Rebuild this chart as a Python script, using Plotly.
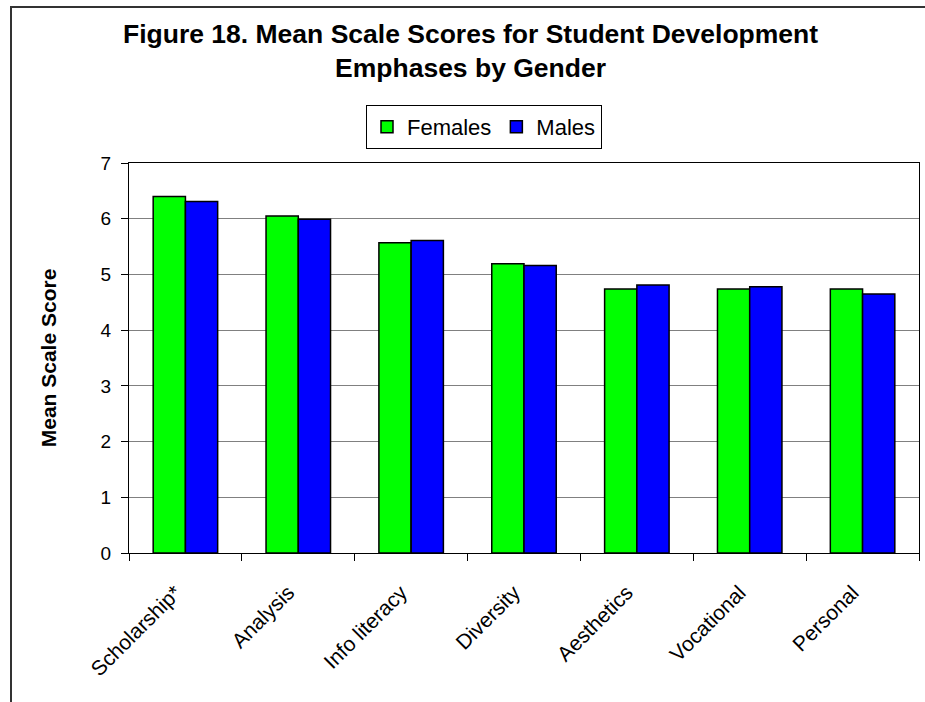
import plotly.graph_objects as go

categories = ["Scholarship*", "Analysis", "Info literacy", "Diversity",
              "Aesthetics", "Vocational", "Personal"]
females = [6.40, 6.05, 5.57, 5.19, 4.74, 4.74, 4.74]
males = [6.31, 5.99, 5.61, 5.16, 4.81, 4.78, 4.65]
y_ticks = [0, 1, 2, 3, 4, 5, 6, 7]

W, H = 925, 702
L, R, T, B = 129, 919, 163, 553
pw, ph = R - L, B - T

def px_x(x):
    return (x - L) / pw

def px_y(y):
    return (B - y) / ph

FONT = "Liberation Sans, Arial, sans-serif"

fig = go.Figure()
fig.add_trace(go.Bar(name="Females", x=categories, y=females,
                     marker=dict(color="#00FF00", line=dict(color="black", width=1.5))))
fig.add_trace(go.Bar(name="Males", x=categories, y=males,
                     marker=dict(color="#0000FF", line=dict(color="black", width=1.5))))

fig.update_layout(
    width=W, height=H,
    margin=dict(l=L, r=W - R, t=T, b=H - B, autoexpand=False),
    paper_bgcolor="white", plot_bgcolor="white",
    barmode="group", bargap=1.5 / 3.5, bargroupgap=0,
    font=dict(family=FONT, size=19, color="black"),
    showlegend=True,
    legend=dict(orientation="h", x=px_x(484), y=px_y(127),
                xanchor="center", yanchor="middle",
                bordercolor="black", borderwidth=1, bgcolor="white",
                font=dict(size=22), itemwidth=30, tracegroupgap=0),
    xaxis=dict(showline=True, linecolor="black", linewidth=1, mirror=True,
               ticks="outside", ticklen=7, tickcolor="black", tickson="boundaries",
               tickangle=-45, showgrid=False, tickfont=dict(size=21),
               ticklabelstandoff=18, ticklabelshift=-10),
    yaxis=dict(range=[0, 7], tickvals=y_ticks, showline=True, linecolor="black",
               linewidth=1, mirror=True, ticks="outside", ticklen=7, tickcolor="black",
               showgrid=True, gridcolor="#808080", gridwidth=1, zeroline=False,
               tickfont=dict(size=19), ticklabelstandoff=6,
               title=dict(text="<b>Mean Scale Score</b>", font=dict(size=21), standoff=38)),
    annotations=[dict(
        text="<b>Figure 18. Mean Scale Scores for Student Development<br>Emphases by Gender</b>",
        xref="paper", yref="paper", x=px_x(470), y=px_y(17),
        xanchor="center", yanchor="top", showarrow=False, align="center",
        font=dict(size=26.5, family=FONT, color="black"))],
    shapes=[dict(type="rect", xref="paper", yref="paper",
                 x0=px_x(11), x1=px_x(940), y0=px_y(720), y1=px_y(7),
                 line=dict(color="#333333", width=2), fillcolor="rgba(0,0,0,0)",
                 layer="below")],
)

fig.write_html("out.html", config={"displayModeBar": False},
               post_script="document.body.style.margin='0';document.body.style.overflow='hidden';")
